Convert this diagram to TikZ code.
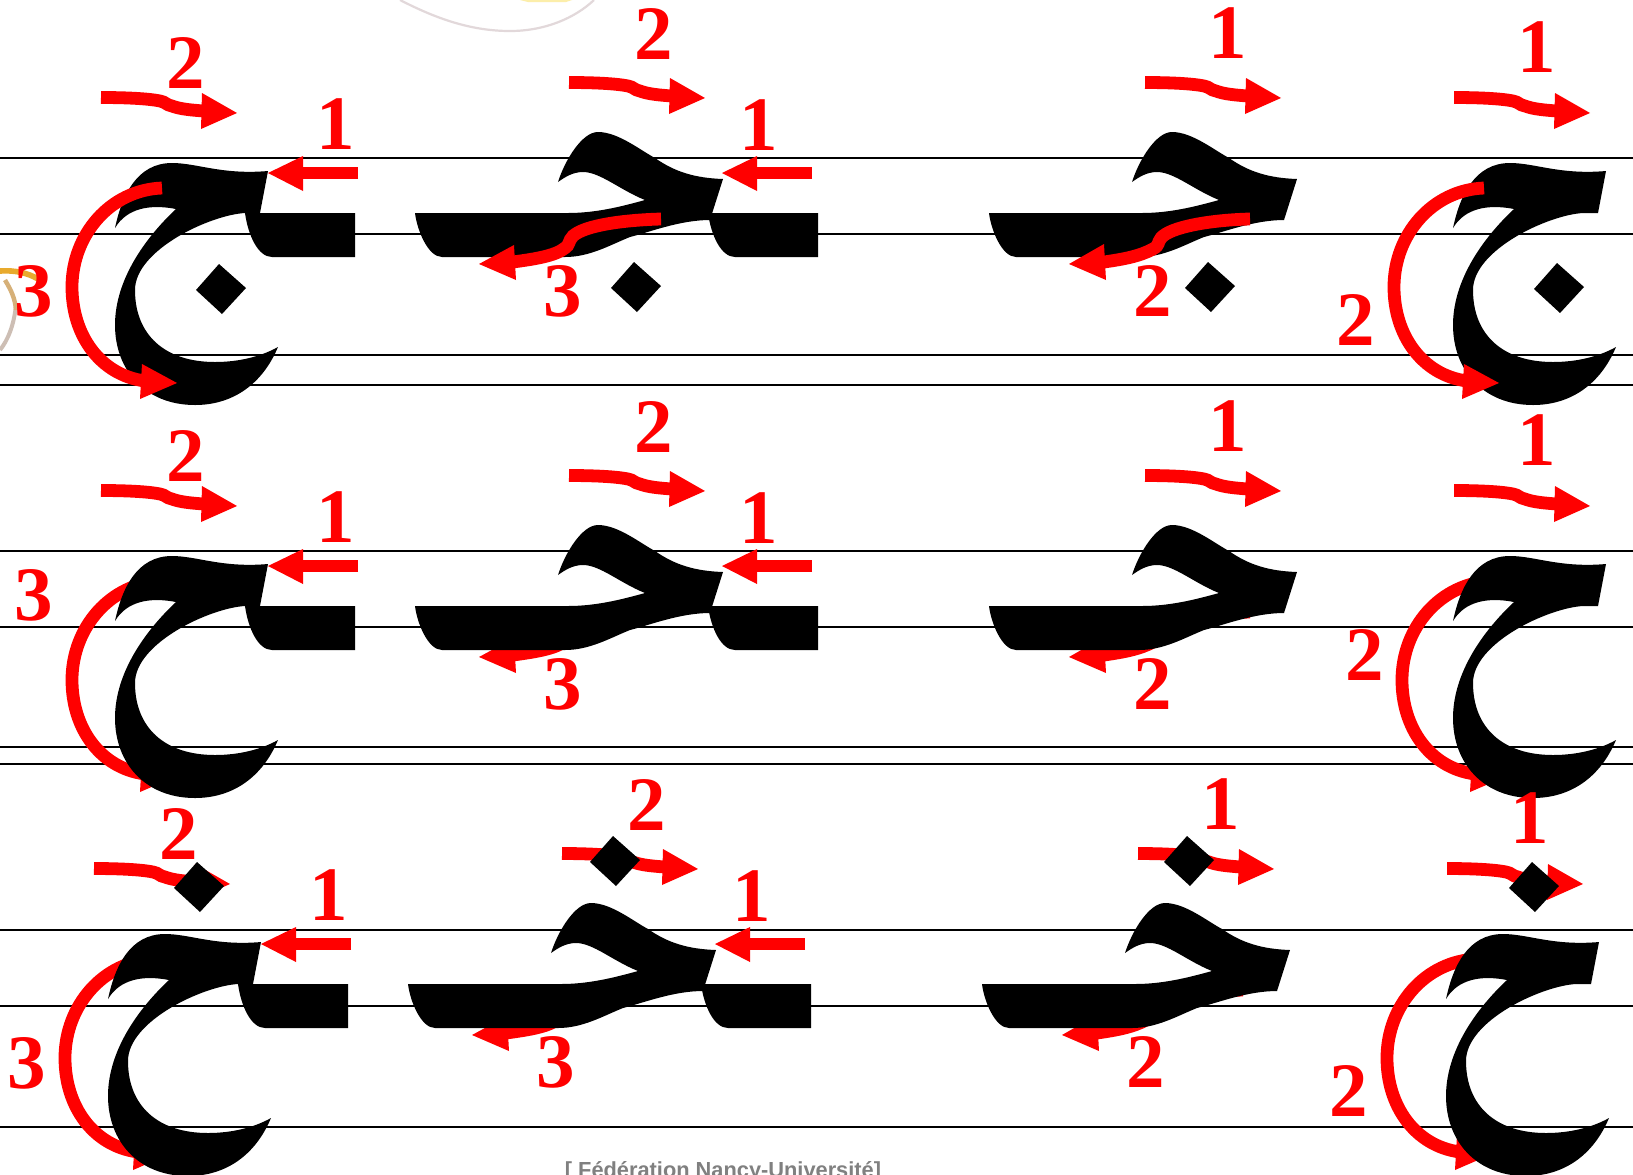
\documentclass[tikz,border=0pt]{standalone}
\usepackage{fontspec}
\setmainfont{Liberation Serif}
\newfontfamily\footfont{Liberation Sans}
\definecolor{penred}{RGB}{255,0,0}
\definecolor{footgray}{RGB}{128,128,128}
\definecolor{ringgray}{RGB}{226,216,218}
\definecolor{fanorange}{RGB}{232,170,45}
\definecolor{fantan}{RGB}{214,176,120}
\definecolor{fangray}{RGB}{205,190,180}
\definecolor{sunyellow}{RGB}{252,238,170}
\tikzset{
  ruleline/.style={black,line width=0.8pt},
  band/.style={penred,line width=6.4pt,line cap=butt},
  headtip/.style={fill=penred,draw=none},
  ink/.style={fill=black,draw=none},
  numeral/.style={text=penred,inner sep=0pt,anchor=base,xshift=0.25pt,font=\fontsize{38.5}{40}\selectfont\bfseries},
}
\newcommand{\glyphAt}[1]{\fill[ink,shift={(#1,0)}] (115,228) .. controls (122,195) and (137,163) .. (172,163) .. controls (197,163) and (222,175) .. (268,171) -- (260,213) -- (245,213) .. controls (210,215) and (135,250) .. (135,290) .. controls (135,335) and (165,362) .. (215,362) .. controls (240,362) and (262,356) .. (278,347) .. controls (262,385) and (232,405) .. (195,405) .. controls (145,405) and (115,370) .. (115,325) .. controls (115,280) and (145,238) .. (176,209) .. controls (150,204) and (127,208) .. (115,228) -- cycle;}
\newcommand{\glyphBt}[1]{\fill[ink,shift={(#1,0)}] (415,213) -- (568,213) .. controls (595,213) and (620,207) .. (645,200) .. controls (620,190) and (600,172) .. (583,172) .. controls (573,172) and (565,177) .. (558,182) .. controls (565,160) and (582,132) .. (598,132) .. controls (618,132) and (640,150) .. (655,158) .. controls (675,172) and (695,178) .. (723,179) -- (710,220) .. controls (680,220) and (650,232) .. (630,237) .. controls (610,245) and (590,257) .. (565,257) -- (442,257) .. controls (428,257) and (417,230) .. (415,213) -- cycle;}
\newcommand{\stub}[1]{\fill[ink,shift={(#1,0)}] (245,213) -- (355,213) -- (355,257) -- (272,257) .. controls (258,257) and (248,235) .. (245,213) -- cycle;}
\newcommand{\gem}[2]{\fill[ink,shift={(#1,#2)}] (0,0) -- (27,24) -- (3,50) -- (-23,26) -- cycle;}
\newcommand{\toparrow}[2]{\draw[band,shift={(#1,#2)}] (101,97.5) .. controls (125,97.5) and (148,98.5) .. (160,101) .. controls (166,102) and (166,105) .. (172,106) .. controls (180,109) and (190,110) .. (204,111);
  \fill[headtip,shift={(#1,#2)}] (202,93) -- (237,113) -- (201,129) -- cycle;}
\newcommand{\sidearrow}[1]{\draw[band,shift={(#1,0)}] (358,173) -- (300,173);
  \fill[headtip,shift={(#1,0)}] (303,156) -- (268,173) -- (303,191) -- cycle;}
\newcommand{\ringarrow}[1]{\draw[band,shift={(#1,0)}] (162,188) .. controls (110,190) and (72,235) .. (72,287) .. controls (72,335) and (100,375) .. (145,381);
  \fill[headtip,shift={(#1,0)}] (142,364) -- (177,383) -- (140,399) -- cycle;}
\newcommand{\lowarrowB}{\draw[band] (661,219) .. controls (625,220) and (585,225) .. (573,236) .. controls (568,241) and (570,245) .. (565,248) .. controls (555,256) and (535,259) .. (513,262);
  \fill[headtip] (514,245) -- (479,264) -- (516,280) -- cycle;}
\newcommand{\lowarrowC}{\draw[band] (1250,219) .. controls (1210,220) and (1170,227) .. (1161,238) .. controls (1157,243) and (1160,245) .. (1153,249) .. controls (1140,256) and (1125,259) .. (1104,262);
  \fill[headtip] (1104,244) -- (1069,264) -- (1106,280) -- cycle;}
\newcommand{\topset}{%
  \toparrow{0}{0}\sidearrow{0}
  \toparrow{468}{-15}\sidearrow{454}
  \toparrow{1044}{-15}
  \toparrow{1353}{0}}
\newcommand{\digits}[3]{%
  \node[numeral] (#1a) at (185,88) {2};
  \node[numeral] (#1b) at (335,149.5) {1};
  \node[numeral] (#1c) at (#2) {3};
  \node[numeral] (#1d) at (653,59) {2};
  \node[numeral] (#1e) at (758,150) {1};
  \node[numeral] (#1f) at (562,316) {3};
  \node[numeral] (#1g) at (1227,58) {1};
  \node[numeral] (#1h) at (1152,316) {2};
  \node[numeral] (#1i) at (1536,72) {1};
  \node[numeral] (#1j) at (#3) {2};}
\begin{document}
\begin{tikzpicture}[x=0.5pt,y=-0.5pt]
\useasboundingbox (0,0) rectangle (1633,1174);
\clip (0,0) rectangle (1633,1174);
\fill[white] (0,0) rectangle (1633,1174);
% faint remains of a logo behind the page
\fill[sunyellow] (520,0) -- (572,0) -- (566,2) -- (528,2) -- cycle;
\draw[ringgray,line width=1.1pt] (400,0) .. controls (435,18) and (470,31) .. (510,31) .. controls (545,31) and (575,18) .. (594,0);
\draw[fangray,line width=2pt] (16,305) .. controls (14,325) and (8,340) .. (0,350);
\draw[fantan,line width=2.2pt] (5,280) .. controls (11,290) and (15,298) .. (16,310);
\draw[fanorange,line width=2.8pt] (0,271) .. controls (15,270) and (28,273) .. (38,279);
% staff lines
\foreach \yy in {158,234,355,385,551,627,747,764,930,1006,1127}
  \draw[ruleline] (0,\yy) -- (1633,\yy);
% first row
\glyphAt{0}\stub{0}\gem{219}{264}
\glyphBt{0}\stub{463}\gem{634}{262}
\glyphBt{574}\gem{1208}{262}
\glyphAt{1338}\gem{1557}{263}
\ringarrow{0}\ringarrow{1322}
\lowarrowB\lowarrowC
\topset
\digits{ra}{33,316}{1355,345}
% second row
\begin{scope}[shift={(0,393)}]
\ringarrow{0}\ringarrow{1330}
\lowarrowB\lowarrowC
\glyphAt{0}\stub{0}
\glyphBt{0}\stub{463}
\glyphBt{574}
\glyphAt{1338}
\topset
\digits{rb}{33,227}{1364,287}
\end{scope}
% third row
\begin{scope}[shift={(-7,771)}]
\ringarrow{0}\ringarrow{1322}
\lowarrowB\lowarrowC
\glyphAt{0}\stub{0}
\glyphBt{0}\stub{463}
\glyphBt{574}
\glyphAt{1338}
\topset
\gem{204}{91}
\gem{620}{65}
\gem{1194}{65}
\gem{1539}{91}
\digits{rc}{33,317}{1355,345}
\end{scope}
\node[text=footgray,inner sep=0pt,anchor=base,font=\footfont\bfseries\fontsize{10.9}{12}\selectfont] (foot) at (723,1177) {[ Fédération Nancy-Université]};
\end{tikzpicture}
\end{document}
